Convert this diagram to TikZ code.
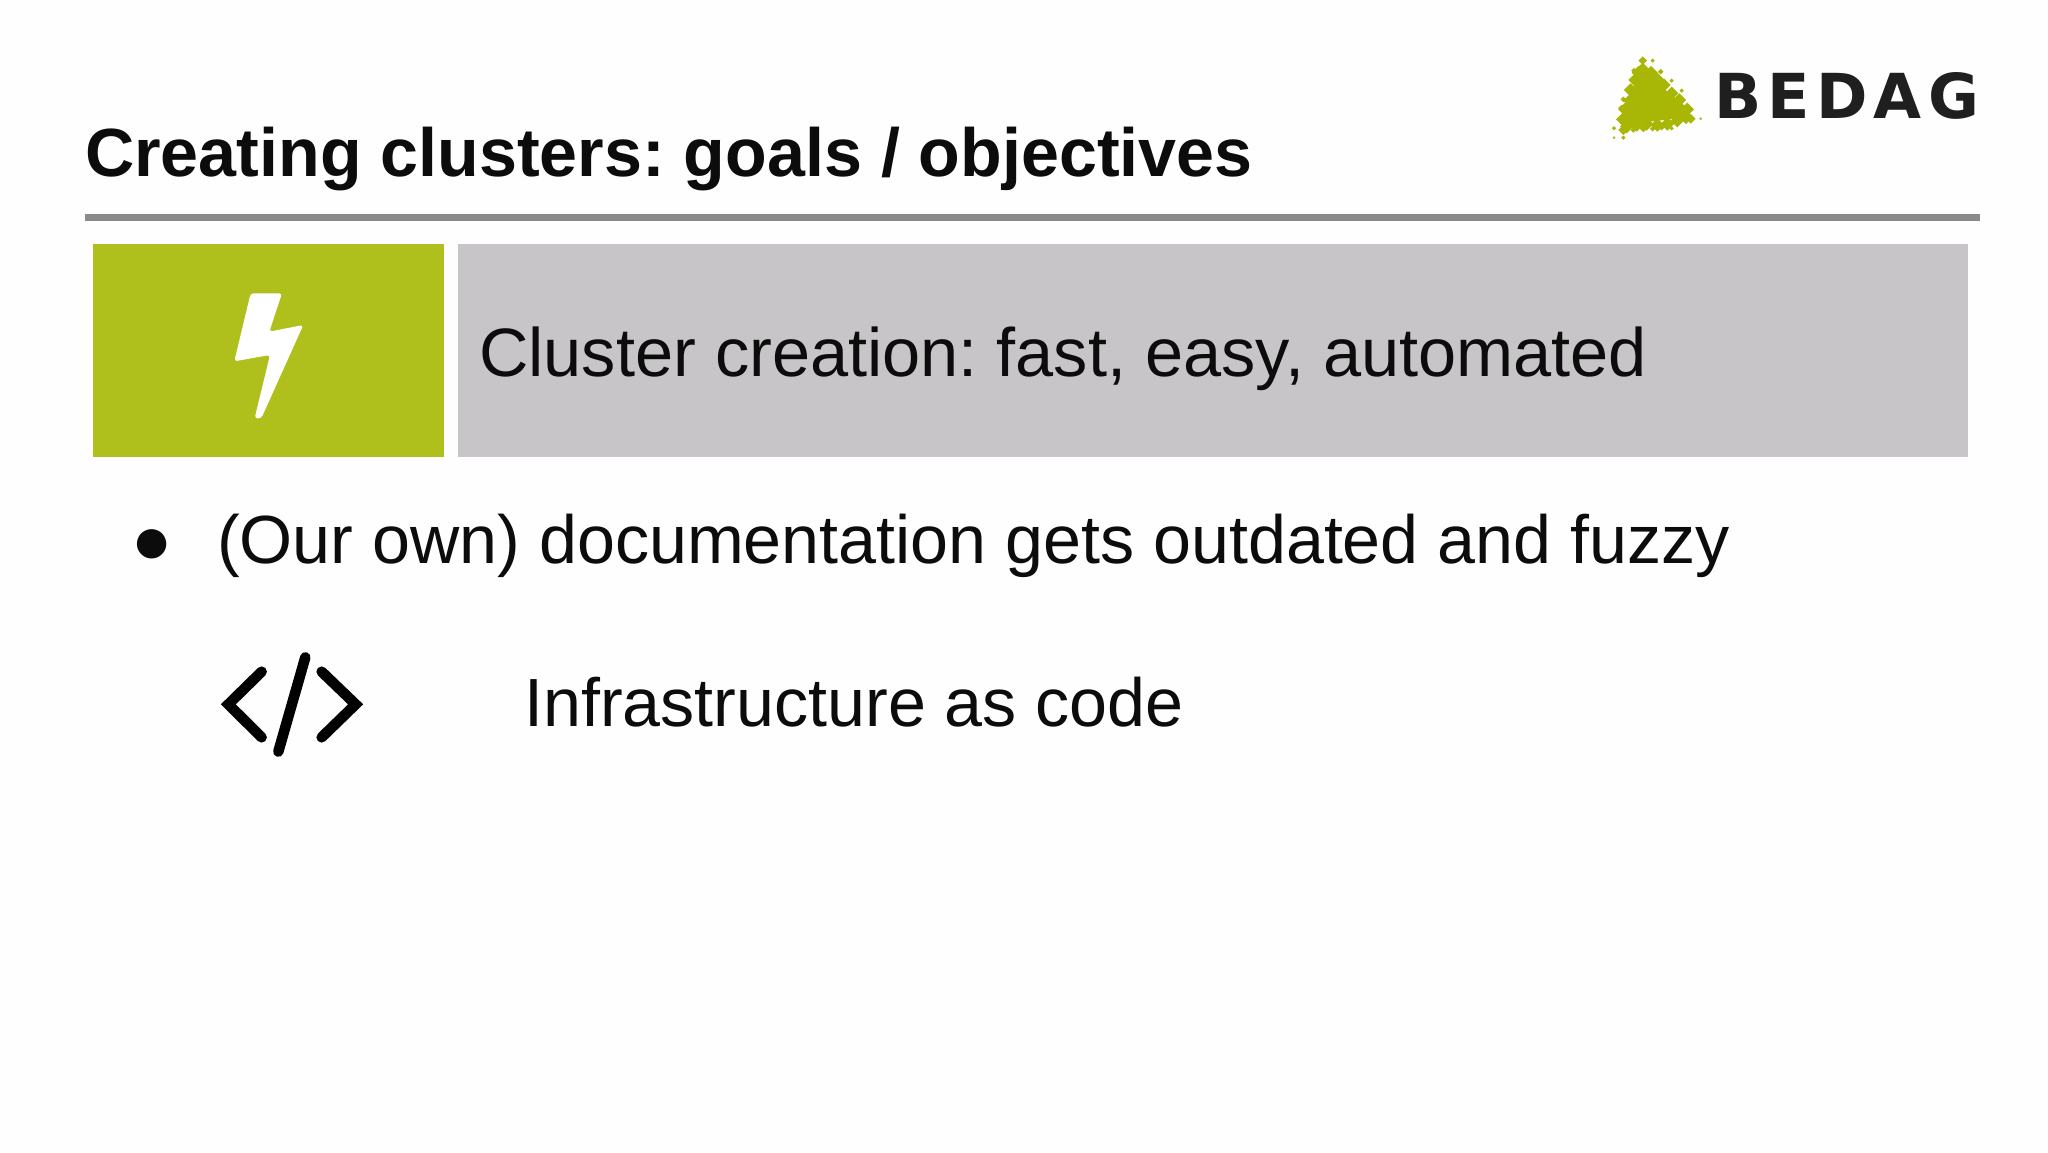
\documentclass[tikz,border=0pt]{standalone}
\usepackage{fontspec}
\setmainfont{Liberation Sans}
\newfontfamily\logofont[LetterSpace=10]{DejaVu Sans}
\definecolor{limegreen}{HTML}{AFC01C}
\definecolor{logogreen}{HTML}{A8B606}
\definecolor{banner}{HTML}{C7C5C7}
\definecolor{rulegray}{HTML}{8A8A8A}
\definecolor{ink}{HTML}{0C0C0C}
\tikzset{
  txt/.style={anchor=base west,inner sep=0pt,text=ink,font=\fontsize{68.2}{74}\selectfont},
  dot/.style={fill=logogreen,rotate=45,minimum size=#1,inner sep=0pt,draw=none,shape=rectangle},
  icon/.style={draw=black,line width=10.5pt,line cap=round}
}
\begin{document}
\frenchspacing
\begin{tikzpicture}[x=1pt,y=-1pt]
\useasboundingbox (0,0) rectangle (2048,1152);
\fill[white!99.5!black] (0,0) rectangle (2048,1152);
% title
\node[txt,font=\fontsize{68.2}{74}\selectfont\bfseries] (title) at (85,176) {Creating clusters: goals / objectives};
\coordinate (ruleL) at (85,217);
\coordinate (ruleR) at (1980,217);
\draw[rulegray,line width=7pt] (ruleL) -- (ruleR);
% banner
\fill[limegreen] (93,244) rectangle (444,457);
\fill[banner] (458,244) rectangle (1968,457);
\begin{scope}[shift={(80,230)},x=0.3333pt,y=-0.3333pt]
\fill[white,rounded corners=3pt] (512,190) -- (606,190) -- (568,305) -- (670,285) -- (544,565) -- (524,565) -- (570,375) -- (463,394) -- cycle;
\end{scope}
\node[txt,font=\fontsize{68.5}{74}\selectfont] (banner) at (479,376) {Cluster creation: fast, easy, automated};
% bullet
\node[txt] (bullet) at (131,563) {●};
\node[txt] (item) at (217,563) {(Our own) documentation gets outdated and fuzzy};
% code icon
\begin{scope}[shift={(120,630)},x=0.3333pt,y=-0.3333pt]
\draw[icon,miter limit=10] (425,125) -- (325,223) -- (425,322);
\draw[icon,miter limit=10] (605,125) -- (707,223) -- (605,322);
\draw[icon] (556,82) -- (475,365);
\end{scope}
\node[txt] (code) at (524,726) {Infrastructure as code};
% logo
\begin{scope}[shift={(1580,30)},x=0.3333pt,y=-0.3333pt]
\fill[logogreen] (180,118) -- (330,240) -- (322,262) -- (125,285) -- (130,255) -- cycle;
\foreach \px/\py in {188/118,213/128,232/148,252/165,275/190,298/210,322/238,318/262,292/272,262/282,232/285,200/282,170/285,140/290,128/268,135/238,150/212,152/180,165/150,175/128}{
  \node[dot=9.5pt] at (\px,\py) {};
}
\foreach \px/\py/\ps in {188/92/6,218/92/3,162/122/4,242/125/4,275/152/3,305/182/3,130/208/4,332/266/7,362/266/2,102/295/3,130/300/7,160/300/4,190/296/5,218/296/4,245/293/4,275/295/3,102/323/2,130/323/3,125/235/5}{
  \node[dot=\ps pt] at (\px,\py) {};
}
\end{scope}
\node[anchor=base west,inner sep=0pt,text=black!88,font=\fontsize{62}{70}\logofont\bfseries] (logo) at (1714,118) {BEDAG};
\end{tikzpicture}
\end{document}
